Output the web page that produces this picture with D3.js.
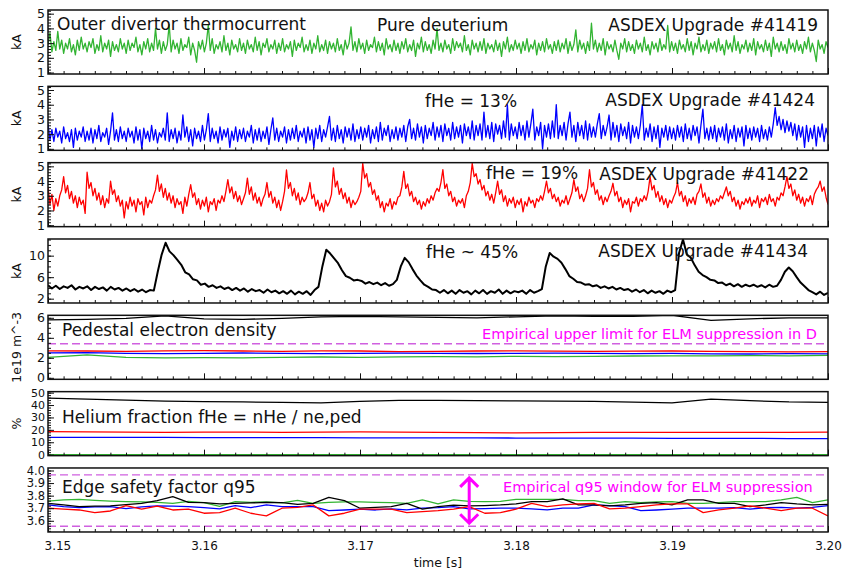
<!DOCTYPE html>
<html>
<head>
<meta charset="utf-8">
<script src="https://cdn.jsdelivr.net/npm/d3@7"></script>
<style>
  body { margin: 0; background: #fff; }
  text { font-family: "DejaVu Sans", sans-serif; }
</style>
</head>
<body>
<svg id="chart" width="854" height="569"></svg>
<script>
// time window shared by all panels (uniformly sampled signals)
const tStart = 3.15;
const tEnd = 3.20;
const xTickValues = [3.15, 3.16, 3.17, 3.18, 3.19, 3.20];

// outer divertor thermocurrent [kA], 400 samples over the window
const thermoD = [
  2.9,3.7,2.4,3.1,2.5,3.8,2.6,3.2,2.3,3.0,2.6,3.3,2.4,2.9,2.2,3.2,2.5,3.4,2.6,3.0,
  2.4,3.1,2.7,3.3,2.3,2.9,2.5,3.5,2.4,3.0,2.6,3.2,2.1,3.1,2.5,2.9,2.4,3.3,2.6,3.0,
  2.3,3.2,2.5,3.0,2.7,3.4,2.4,2.9,2.2,3.1,2.6,3.3,2.4,3.0,2.5,4.0,2.6,3.2,2.3,3.1,
  2.5,2.9,4.25,2.4,3.2,2.6,3.0,2.3,3.3,2.5,2.9,2.7,3.4,2.2,3.0,2.5,1.7,3.1,2.6,3.2,
  2.4,3.0,4.25,2.5,3.3,2.3,2.9,2.6,3.1,2.4,3.5,2.5,3.0,2.2,3.2,2.6,2.9,2.4,3.3,2.5,
  3.0,2.3,3.2,2.6,2.9,2.4,3.4,2.5,3.1,2.2,3.0,2.7,3.3,2.4,2.9,2.6,3.2,2.3,3.0,2.5,
  3.3,2.4,2.9,2.6,3.1,2.1,3.2,2.5,3.0,2.7,3.4,2.4,2.9,2.5,3.2,2.3,3.0,2.6,3.5,2.4,
  2.9,2.5,3.2,2.3,3.1,2.6,3.0,2.4,3.3,2.5,2.9,2.2,3.2,2.6,3.0,4.1,2.5,3.1,2.4,3.3,
  2.6,3.0,2.3,3.2,2.5,2.9,2.7,3.4,2.4,3.1,2.5,3.0,2.2,3.3,2.6,2.9,2.4,3.2,2.5,3.0,
  2.3,3.1,2.6,3.3,2.4,2.9,2.5,3.2,2.1,3.0,2.6,3.4,2.4,3.1,2.5,2.9,2.3,3.2,2.6,4.0,
  2.5,3.0,2.4,3.2,2.6,2.9,2.3,3.3,2.5,3.1,2.7,3.0,2.4,3.5,2.5,2.9,2.2,3.2,2.6,3.0,
  2.4,3.1,2.5,3.3,2.3,3.0,2.6,2.9,2.4,3.2,2.5,3.0,2.1,3.1,2.6,3.4,2.4,2.9,2.5,3.2,
  2.6,3.0,2.3,3.1,2.5,3.3,2.4,2.9,2.6,3.2,2.2,3.0,2.5,3.1,2.4,3.3,2.6,2.9,2.3,3.1,
  2.5,3.2,2.4,3.0,2.6,3.3,2.3,3.1,2.5,2.9,3.9,2.4,3.2,2.6,3.0,2.3,3.1,2.5,4.35,2.6,
  3.2,2.4,3.0,2.5,3.3,2.2,3.1,2.6,2.9,2.4,3.2,2.5,1.9,3.0,2.6,3.3,2.4,3.1,2.5,2.9,
  2.3,3.2,2.6,3.0,2.4,3.4,2.5,2.9,2.2,3.1,2.6,3.0,2.4,3.3,2.5,2.9,2.6,4.2,2.4,3.1,
  2.5,3.0,2.3,3.2,2.6,2.9,2.4,3.3,2.5,3.1,2.2,3.0,2.6,3.4,2.4,2.9,2.5,3.2,2.3,3.0,
  2.6,3.1,2.4,3.3,2.5,2.9,2.2,3.2,2.6,3.0,2.4,3.5,2.5,3.1,2.3,2.9,2.6,3.2,2.4,3.0,
  2.5,3.3,2.2,3.1,2.6,2.9,2.4,3.2,2.5,3.0,2.1,3.4,2.6,3.0,2.4,3.1,2.5,2.9,2.3,3.3,
  2.6,3.0,2.4,3.2,2.5,2.9,2.3,3.1,2.6,3.4,2.4,3.0,2.5,1.75,3.2,2.6,2.9,2.3,3.1,2.7
];
const thermoHe13 = [
  2.7,1.6,2.3,1.5,2.4,1.8,2.2,1.4,2.5,1.7,2.1,1.5,2.3,1.1,2.4,1.6,2.2,1.8,2.5,1.5,
  2.2,1.6,2.4,1.4,2.3,1.7,2.6,1.5,2.1,1.8,2.4,1.3,2.2,3.45,1.6,2.3,1.5,2.5,1.7,2.2,
  1.5,2.4,1.8,2.2,1.4,2.5,1.6,2.3,1.0,2.4,1.7,2.2,1.5,2.6,1.6,2.3,1.4,2.1,1.8,2.4,
  1.6,3.45,1.5,2.3,1.7,2.4,1.4,2.2,1.6,3.3,1.8,2.5,1.5,2.3,1.2,2.4,1.7,2.2,1.5,2.6,
  1.6,2.3,3.4,1.5,2.4,1.7,2.2,1.4,2.5,1.6,2.3,1.8,2.4,1.1,2.2,1.6,2.5,1.5,2.3,1.7,
  2.4,1.5,2.2,1.8,2.6,1.4,2.3,1.6,2.4,1.5,2.2,1.7,2.5,1.3,2.3,3.1,1.6,2.4,1.5,2.2,
  1.8,2.5,1.4,2.3,1.6,2.4,1.7,2.6,1.5,2.2,1.8,2.4,1.4,2.5,1.6,2.3,1.1,2.4,1.7,2.6,
  1.5,2.3,1.8,2.5,3.2,1.6,2.4,1.5,2.6,1.7,2.3,1.4,2.5,1.8,2.4,1.6,2.7,1.5,2.3,1.7,
  2.5,1.6,2.4,1.8,2.6,1.4,2.3,1.7,2.5,1.5,2.8,1.6,2.4,1.9,2.6,1.5,2.3,1.7,2.5,1.6,
  2.4,1.8,2.6,1.5,2.5,3.0,1.7,2.4,1.6,2.7,1.8,2.5,1.4,2.6,1.7,2.4,1.9,2.8,1.6,2.5,
  1.8,2.6,1.5,2.7,1.9,2.4,1.6,2.8,1.7,2.5,1.8,2.6,1.4,2.7,1.9,2.5,1.7,2.9,1.6,2.6,
  1.9,2.7,1.6,3.5,1.8,2.6,1.7,2.8,1.5,2.7,2.0,2.6,1.7,2.9,1.8,4.0,1.6,2.7,1.9,2.5,
  1.7,2.8,1.9,2.6,1.6,2.9,1.8,2.7,3.7,1.6,2.5,1.9,2.8,1.0,2.6,1.8,2.7,1.7,2.9,1.8,
  4.0,1.7,2.6,1.9,2.8,1.6,2.7,3.5,1.8,2.6,1.5,2.8,1.9,2.6,1.7,2.9,1.6,2.7,1.8,2.5,
  1.8,2.7,3.4,1.7,2.6,1.9,2.5,3.3,1.6,2.8,1.8,2.6,1.5,2.7,1.9,2.5,1.7,2.8,1.4,2.6,
  1.8,2.5,1.7,2.6,4.0,1.6,2.4,1.8,2.7,1.5,2.5,1.7,2.6,1.1,2.4,1.8,2.6,1.6,2.5,1.7,
  2.4,1.6,2.6,1.8,2.5,1.5,2.7,1.7,2.4,1.6,2.6,1.9,2.5,1.4,2.6,3.7,1.7,2.4,1.6,2.5,
  1.7,2.6,1.5,2.4,1.8,2.5,1.6,2.7,1.4,2.3,1.7,2.6,1.5,2.4,1.8,2.5,1.2,2.6,1.7,2.4,
  1.6,2.5,1.8,2.4,1.5,2.6,1.7,2.3,1.6,2.5,1.8,2.7,3.8,2.6,3.2,2.3,3.0,2.1,2.9,2.2,
  2.8,1.9,2.7,1.6,2.6,1.8,2.5,1.1,2.6,1.5,2.4,1.7,2.6,1.2,2.5,1.8,2.7,1.5,2.4,1.9
];
const thermoHe19 = [
  3.6,2.4,3.1,2.0,2.8,2.3,3.0,3.4,4.3,3.2,3.7,2.8,3.3,2.5,3.0,2.2,2.9,2.4,2.7,1.8,
  4.6,3.5,3.9,3.0,3.5,2.7,3.2,2.4,3.0,2.2,2.8,2.5,4.0,3.1,3.4,2.6,3.0,2.3,2.7,1.5,
  2.6,2.1,2.9,2.3,2.7,1.9,2.8,2.4,2.6,1.7,2.9,2.2,2.7,2.5,3.0,3.4,4.4,3.3,3.8,2.9,
  3.5,2.7,3.2,2.5,3.0,2.2,2.8,2.4,2.6,1.8,2.9,2.3,3.1,3.75,2.9,3.2,2.4,2.8,2.1,2.7,
  2.3,2.9,1.9,2.6,2.4,2.8,2.0,2.7,2.5,3.0,2.6,3.3,4.1,3.2,3.6,2.8,3.3,2.6,3.0,2.4,
  2.8,3.2,4.2,3.1,3.6,2.7,3.2,2.5,2.9,2.3,2.8,3.1,3.9,2.9,3.3,2.5,2.9,2.2,2.7,2.0,
  2.6,3.3,4.75,3.5,3.9,3.0,3.5,2.7,3.2,2.4,2.9,2.6,2.8,3.2,3.9,2.8,3.1,2.3,2.7,2.0,
  2.5,1.9,2.7,2.3,2.6,3.1,4.9,3.6,4.0,3.1,3.5,2.8,3.2,2.5,2.9,2.2,2.7,2.4,2.6,2.9,
  3.3,5.2,4.2,4.5,3.6,3.9,3.1,3.4,2.7,3.0,2.2,2.6,1.9,2.5,2.3,2.8,2.1,2.6,2.4,2.9,
  3.0,3.6,4.66,3.5,3.8,3.0,3.3,2.6,2.9,2.4,2.7,2.1,2.6,2.3,2.8,2.5,3.0,2.7,3.2,3.5,
  3.3,3.9,4.77,3.5,3.8,3.0,3.3,2.6,2.9,2.3,2.7,2.5,2.8,2.2,3.0,3.3,3.9,5.2,4.3,4.5,
  3.8,4.1,3.4,3.7,3.0,3.3,2.7,3.1,2.5,3.2,4.0,3.1,3.4,2.6,3.0,2.3,2.8,2.5,2.9,2.2,
  2.7,2.4,2.8,1.9,2.6,2.3,2.9,2.5,2.7,2.2,2.8,2.6,3.0,2.7,3.3,4.0,3.2,3.5,2.8,3.1,
  2.6,2.9,2.3,2.7,2.5,3.0,2.4,2.8,3.2,4.1,3.3,3.6,2.8,3.1,2.6,3.0,3.5,4.77,3.6,3.9,
  3.1,3.4,2.7,3.0,2.4,2.9,2.6,3.0,3.3,3.85,3.0,3.3,2.6,2.9,2.2,2.7,2.4,2.8,1.9,2.6,
  2.5,2.9,2.3,2.8,2.6,3.0,2.7,3.3,4.3,3.4,3.7,2.9,3.3,2.6,3.0,2.4,2.8,2.2,2.7,2.5,
  2.9,3.2,3.9,3.0,3.3,2.6,3.0,2.3,2.8,2.5,2.9,2.4,3.1,3.3,3.8,2.9,3.2,2.5,2.9,2.3,
  2.7,2.4,2.8,2.6,3.0,2.8,3.2,3.6,3.0,3.3,2.6,2.9,2.3,2.7,2.1,2.6,2.4,2.8,2.5,2.9,
  2.3,2.7,2.5,3.0,2.2,2.8,2.6,2.9,2.4,3.1,2.6,2.8,2.3,2.9,2.7,3.2,3.0,3.6,4.3,3.5,
  3.8,3.0,3.4,2.7,3.1,2.5,2.9,2.3,2.8,2.6,3.0,2.4,3.1,3.4,3.6,4.0,3.3,3.6,2.9,2.4
];
// 200 samples
const thermoHe45 = [
  4.5,3.9,4.4,3.8,4.3,4.0,4.5,3.7,4.2,3.9,4.3,3.6,4.2,3.8,4.1,3.5,4.2,3.7,4.0,3.5,
  3.9,3.4,3.8,3.3,3.7,3.2,3.6,3.5,7.0,10.2,12.4,10.8,10.1,9.2,8.3,6.9,6.5,5.6,5.4,4.6,
  4.8,4.2,4.5,4.0,4.3,3.8,4.1,3.6,4.0,3.5,3.9,3.3,3.8,3.4,3.6,3.1,3.7,3.2,3.5,3.0,
  3.4,2.9,3.5,2.8,3.3,2.9,3.4,2.7,3.6,4.2,8.0,11.1,10.4,9.5,8.6,7.3,6.2,5.9,5.4,5.5,
  5.3,4.8,5.1,4.7,5.0,4.5,4.9,4.4,4.7,5.5,8.0,9.6,8.8,7.5,6.3,5.4,4.6,4.2,3.7,3.6,
  3.1,3.6,3.0,3.5,2.9,3.6,3.1,3.4,2.8,3.5,3.0,3.6,2.9,3.4,3.1,3.7,2.9,3.5,3.0,3.4,
  3.2,3.5,2.9,3.6,3.1,3.4,3.8,8.0,10.5,9.8,9.4,8.7,7.5,6.2,5.7,5.1,5.0,4.6,4.7,4.3,
  4.5,4.0,4.3,3.9,4.2,3.7,4.0,3.6,3.8,3.3,3.7,3.2,3.6,3.0,3.5,3.1,3.4,2.9,3.5,3.2,
  3.6,10.5,13.0,10.2,9.6,8.2,7.0,6.4,6.0,5.5,5.4,4.9,5.0,4.5,4.8,4.3,4.7,4.2,4.6,4.3,
  4.6,4.2,4.5,4.1,4.6,4.2,4.4,5.5,7.0,7.8,7.1,6.0,5.0,4.3,3.6,3.2,2.8,3.3,2.7,3.1
];

// pedestal electron density [1e19 m^-3], 21 samples
const densD    = [2.05,2.3,2.05,2.0,2.02,2.0,2.05,2.08,2.05,2.1,2.12,2.1,2.15,2.12,2.15,2.18,2.2,2.2,2.22,2.2,2.25];
const densHe13 = [2.5,2.52,2.45,2.42,2.45,2.48,2.45,2.42,2.45,2.47,2.45,2.43,2.45,2.46,2.44,2.42,2.45,2.4,2.38,2.42,2.4];
const densHe19 = [2.7,2.68,2.65,2.7,2.72,2.68,2.65,2.7,2.68,2.62,2.65,2.68,2.7,2.66,2.64,2.66,2.68,2.65,2.62,2.6,2.62];
const densHe45 = [5.8,5.85,5.95,6.2,5.9,5.85,5.95,6.1,6.15,6.1,6.05,6.0,6.1,6.2,6.15,6.15,6.25,5.75,5.9,6.0,6.0];
const densLimitD = 3.4;

// helium fraction [%], 21 samples
const fracD    = [0,0,0,0,0,0,0,0,0,0,0,0,0,0,0,0,0,0,0,0,0];
const fracHe13 = [14.0,14.0,13.9,13.9,13.8,13.8,13.7,13.7,13.6,13.6,13.5,13.5,13.4,13.4,13.3,13.3,13.2,13.2,13.1,13.0,13.0];
const fracHe19 = [18.5,18.3,18.2,18.0,18.1,18.2,18.0,18.1,18.3,18.2,18.0,17.8,17.6,17.8,17.9,18.0,17.9,18.0,17.9,18.0,18.1];
const fracHe45 = [45.5,44.8,44.0,43.2,42.8,42.5,42.2,41.8,43.0,43.8,43.8,43.5,43.3,43.2,43.0,42.3,41.8,44.8,43.5,42.5,42.2];

// edge safety factor q95, 51 samples
const q95D = [
  3.757,3.766,3.771,3.763,3.757,3.753,3.750,3.747,3.739,3.755,3.745,3.715,3.753,3.747,3.750,3.742,3.763,
  3.739,3.747,3.750,3.750,3.747,3.745,3.739,3.766,3.734,3.766,3.755,3.753,3.755,3.771,3.771,3.771,3.771,
  3.760,3.760,3.739,3.753,3.745,3.750,3.753,3.739,3.739,3.745,3.753,3.753,3.753,3.766,3.787,3.745,3.766
];
const q95He13 = [
  3.726,3.713,3.705,3.710,3.713,3.697,3.710,3.718,3.716,3.713,3.705,3.694,3.721,3.705,3.726,3.713,3.713,
  3.713,3.681,3.686,3.692,3.686,3.694,3.686,3.700,3.705,3.713,3.694,3.697,3.700,3.700,3.694,3.686,3.700,
  3.700,3.726,3.721,3.713,3.681,3.686,3.692,3.700,3.700,3.700,3.705,3.692,3.705,3.707,3.700,3.707,3.721
];
const q95He19 = [
  3.700,3.692,3.686,3.665,3.678,3.721,3.692,3.716,3.686,3.692,3.660,3.665,3.700,3.660,3.639,3.700,3.707,
  3.726,3.639,3.660,3.692,3.692,3.692,3.665,3.673,3.681,3.692,3.713,3.660,3.665,3.692,3.739,3.713,3.726,
  3.734,3.739,3.694,3.700,3.713,3.726,3.734,3.734,3.665,3.686,3.700,3.718,3.700,3.681,3.700,3.700,3.639
];
const q95He45 = [
  3.739,3.726,3.713,3.716,3.718,3.729,3.739,3.760,3.792,3.747,3.745,3.734,3.739,3.742,3.747,3.745,3.731,
  3.739,3.787,3.760,3.700,3.707,3.713,3.739,3.692,3.713,3.724,3.718,3.721,3.726,3.734,3.753,3.753,3.774,
  3.726,3.726,3.718,3.726,3.739,3.745,3.726,3.766,3.766,3.739,3.739,3.713,3.726,3.745,3.734,3.726,3.731
];
const q95Window = [3.557, 3.965];
const q95ArrowTime = 3.177;

const GREEN = '#32b432';
const BLUE = '#0000ff';
const RED = '#ff0000';
const BLACK = '#000000';
const MAGENTA = '#ff00ff';
const DASH = '#d060e0';

const svg = d3.select('#chart');
const margin = { left: 48, right: 26 };
const width = 854;
const panelTop0 = 10;
const panelStep = 76.33;
const panelH = 64;

const x = d3.scaleLinear().domain([tStart, tEnd]).range([margin.left, width - margin.right]);
const fmt1 = d3.format('.1f');

const panels = [
  { domain: [0.9, 5.25], major: [1, 2, 3, 4, 5], minor: 0.2, fmt: d3.format('d'), label: 'kA', fs: 12.5,
    series: [{ v: thermoD, c: GREEN, w: 1.3 }] },
  { domain: [0.9, 5.25], major: [1, 2, 3, 4, 5], minor: 0.2, fmt: d3.format('d'), label: 'kA', fs: 12.5,
    series: [{ v: thermoHe13, c: BLUE, w: 1.3 }] },
  { domain: [0.9, 5.25], major: [1, 2, 3, 4, 5], minor: 0.2, fmt: d3.format('d'), label: 'kA', fs: 12.5,
    series: [{ v: thermoHe19, c: RED, w: 1.3 }] },
  { domain: [1.2, 13.1], major: [2, 6, 10], minor: 1, fmt: d3.format('d'), label: 'kA', fs: 12.5,
    series: [{ v: thermoHe45, c: BLACK, w: 2 }] },
  { domain: [-0.15, 6.25], major: [0, 2, 4, 6], minor: 0.5, fmt: d3.format('d'), label: '1e19 m^-3', fs: 12.5,
    dashed: [densLimitD],
    series: [{ v: densHe45, c: BLACK, w: 1.3 }, { v: densHe19, c: RED, w: 1.3 },
             { v: densHe13, c: BLUE, w: 1.3 }, { v: densD, c: GREEN, w: 1.3 }] },
  { domain: [-0.8, 50.8], major: [0, 10, 20, 30, 40, 50], minor: 2, fmt: d3.format('d'), label: '%', fs: 11,
    series: [{ v: fracHe45, c: BLACK, w: 1.3 }, { v: fracHe19, c: RED, w: 1.3 },
             { v: fracHe13, c: BLUE, w: 1.3 }, { v: fracD, c: GREEN, w: 1.3 }] },
  { domain: [3.511, 4.02], major: [3.6, 3.7, 3.8, 3.9, 4.0], minor: 0.02, fmt: fmt1, label: '', fs: 11.5,
    dashed: q95Window,
    series: [{ v: q95D, c: GREEN, w: 1.3 }, { v: q95He13, c: BLUE, w: 1.3 },
             { v: q95He45, c: BLACK, w: 1.3 }, { v: q95He19, c: RED, w: 1.3 }] }
];

const minorXTicks = d3.range(0, 51).map(k => tStart + k * 0.001);

panels.forEach((p, i) => {
  const top = panelTop0 + i * panelStep;
  const bottom = top + panelH;
  const y = d3.scaleLinear().domain(p.domain).range([bottom, top]);
  p.y = y;
  const g = svg.append('g').attr('class', 'panel');

  g.append('clipPath').attr('id', 'clip' + i)
    .append('rect').attr('x', margin.left).attr('y', top)
    .attr('width', x.range()[1] - margin.left).attr('height', panelH);

  const plot = g.append('g').attr('clip-path', `url(#clip${i})`);

  (p.dashed || []).forEach(v => {
    plot.append('line')
      .attr('x1', x(tStart)).attr('x2', x(tEnd))
      .attr('y1', y(v)).attr('y2', y(v))
      .attr('stroke', DASH).attr('stroke-width', 1.4)
      .attr('stroke-dasharray', '8,4');
  });

  p.series.forEach(s => {
    const n = s.v.length;
    const line = d3.line()
      .x((d, k) => x(tStart + k * (tEnd - tStart) / (n - 1)))
      .y(d => y(d));
    plot.append('path')
      .attr('d', line(s.v))
      .attr('fill', 'none')
      .attr('stroke', s.c)
      .attr('stroke-width', s.w)
      .attr('stroke-linejoin', 'round');
  });

  // y axis: major + minor ticks pointing inward
  const lo = p.domain[0], hi = p.domain[1];
  const minorY = d3.range(Math.ceil(lo / p.minor) * p.minor, hi, p.minor);
  g.append('g')
    .attr('transform', `translate(${margin.left},0)`)
    .call(d3.axisLeft(y).tickValues(minorY).tickSize(-3).tickFormat(''))
    .call(a => a.select('.domain').remove());
  g.append('g')
    .attr('transform', `translate(${margin.left},0)`)
    .call(d3.axisLeft(y).tickValues(p.major).tickSize(-6).tickPadding(3).tickFormat(p.fmt))
    .call(a => a.select('.domain').remove())
    .call(a => a.selectAll('text').attr('font-size', p.fs).attr('fill', '#111')
      .attr('font-family', '"DejaVu Sans", sans-serif'));

  // x axis ticks on every panel bottom, labels only on the last one
  const last = i === panels.length - 1;
  g.append('g')
    .attr('transform', `translate(0,${bottom})`)
    .call(d3.axisBottom(x).tickValues(minorXTicks).tickSize(-3).tickFormat(''))
    .call(a => a.select('.domain').remove());
  const xa = g.append('g')
    .attr('transform', `translate(0,${bottom})`)
    .call(d3.axisBottom(x).tickValues(xTickValues).tickSize(-6).tickPadding(10)
      .tickFormat(last ? d3.format('.2f') : ''))
    .call(a => a.select('.domain').remove())
    .call(a => a.selectAll('text').attr('font-size', 12).attr('fill', '#111')
      .attr('font-family', '"DejaVu Sans", sans-serif'));
  if (last) {
    xa.select('.tick text').attr('text-anchor', 'start').attr('x', -4);
  }

  g.selectAll('.tick line').attr('stroke', '#111');

  g.append('rect')
    .attr('x', margin.left).attr('y', top)
    .attr('width', x.range()[1] - margin.left).attr('height', panelH)
    .attr('fill', 'none').attr('stroke', '#111').attr('stroke-width', 1.5);

  if (p.label) {
    g.append('text')
      .attr('transform', `translate(21,${(top + bottom) / 2}) rotate(-90)`)
      .attr('text-anchor', 'middle')
      .attr('font-size', 12.5)
      .attr('fill', '#111')
      .text(p.label);
  }
});

// magenta double arrow showing the q95 window
const qy = panels[6].y;
const ax = x(q95ArrowTime);
const yTop = qy(q95Window[1]) + 3;
const yBot = qy(q95Window[0]) - 3;
const head = 9;
svg.append('path')
  .attr('d', `M${ax},${yTop}V${yBot}` +
    `M${ax - head},${yTop + head}L${ax},${yTop}L${ax + head},${yTop + head}` +
    `M${ax - head},${yBot - head}L${ax},${yBot}L${ax + head},${yBot - head}`)
  .attr('fill', 'none')
  .attr('stroke', MAGENTA)
  .attr('stroke-width', 3);

const notes = [
  { t: 'Outer divertor thermocurrent', x: 57, y: 30, a: 'start' },
  { t: 'Pure deuterium', x: 377, y: 30.5, a: 'start' },
  { t: 'ASDEX Upgrade #41419', x: 818, y: 30.5, a: 'end' },
  { t: 'fHe = 13%', x: 425, y: 107, a: 'start' },
  { t: 'ASDEX Upgrade #41424', x: 815, y: 105.5, a: 'end' },
  { t: 'fHe = 19%', x: 486, y: 179, a: 'start' },
  { t: 'ASDEX Upgrade #41422', x: 809, y: 180, a: 'end' },
  { t: 'fHe ~ 45%', x: 426, y: 258, a: 'start' },
  { t: 'ASDEX Upgrade #41434', x: 808, y: 257, a: 'end' },
  { t: 'Pedestal electron density', x: 62, y: 336, a: 'start' },
  { t: 'Empirical upper limit for ELM suppression in D', x: 817, y: 339, a: 'end', c: MAGENTA, s: 14.5 },
  { t: 'Helium fraction fHe = nHe / ne,ped', x: 62, y: 423, a: 'start' },
  { t: 'Edge safety factor q95', x: 62, y: 493, a: 'start' },
  { t: 'Empirical q95 window for ELM suppression', x: 503, y: 492, a: 'start', c: MAGENTA, s: 14.5 }
];

svg.append('g').selectAll('text')
  .data(notes)
  .join('text')
  .attr('x', d => d.x)
  .attr('y', d => d.y)
  .attr('text-anchor', d => d.a)
  .attr('font-size', d => d.s || 17)
  .attr('fill', d => d.c || '#111')
  .text(d => d.t);

svg.append('text')
  .attr('x', (x.range()[0] + x.range()[1]) / 2)
  .attr('y', 567)
  .attr('text-anchor', 'middle')
  .attr('font-size', 12.5)
  .attr('fill', '#111')
  .text('time [s]');
</script>
</body>
</html>
